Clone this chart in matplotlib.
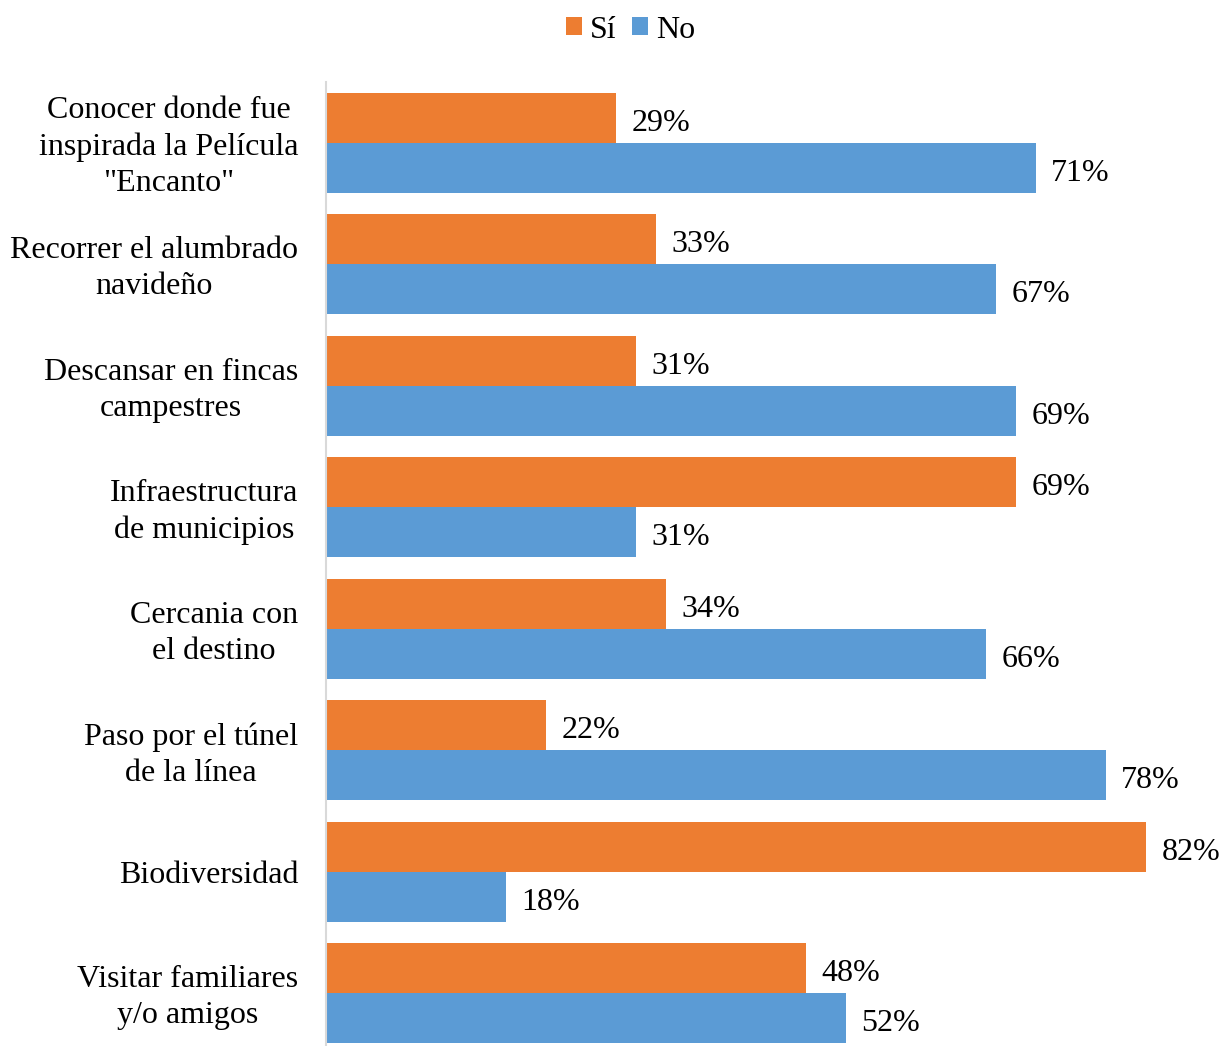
import matplotlib
matplotlib.use("Agg")
import matplotlib.pyplot as plt
from matplotlib.transforms import ScaledTranslation
import numpy as np

categories = [
    'Conocer donde fue\ninspirada la Película\n"Encanto"',
    'Recorrer el alumbrado\nnavideño',
    'Descansar en fincas\ncampestres',
    'Infraestructura\nde municipios',
    'Cercania con\nel destino',
    'Paso por el túnel\nde la línea',
    'Biodiversidad',
    'Visitar familiares\ny/o amigos',
]
si_values = [29, 33, 31, 69, 34, 22, 82, 48]
no_values = [71, 67, 69, 31, 66, 78, 18, 52]
series_names = ['Sí', 'No']

plt.rcParams['font.family'] = ['Liberation Serif', 'DejaVu Serif']
FS = 23

fig = plt.figure(figsize=(12.22, 10.46), dpi=100)
W, H = 1222, 1046
left_px, top_px, bottom_px = 326, 82, 1054
ax = fig.add_axes([left_px / W, (H - bottom_px) / H, 896 / W, (bottom_px - top_px) / H])

y = np.arange(len(categories))
h = 0.41
c_si = '#ED7D31'
c_no = '#5B9BD5'
b1 = ax.barh(y - h / 2, si_values, height=h, color=c_si, label=series_names[0])
b2 = ax.barh(y + h / 2, no_values, height=h, color=c_no, label=series_names[1])

for bars, vals in ((b1, si_values), (b2, no_values)):
    for rect, v in zip(bars, vals):
        ax.annotate(f'{v}%', (rect.get_width(), rect.get_y() + rect.get_height() / 2),
                    xytext=(11, -4), textcoords='offset points', va='center', ha='left',
                    fontsize=FS)

ax.set_xlim(0, 89.6)
ax.set_ylim(len(categories) - 0.5, -0.5)
ax.set_yticks(y)
ax.set_yticklabels(categories, fontsize=FS, multialignment='center', linespacing=1.32)
ax.tick_params(axis='y', length=0, pad=20)
for lbl in ax.get_yticklabels():
    if '\n' in lbl.get_text():
        lbl.set_transform(lbl.get_transform() + ScaledTranslation(0, 2.5 / 100, fig.dpi_scale_trans))
ax.set_xticks([])
for s in ('top', 'right', 'bottom'):
    ax.spines[s].set_visible(False)
ax.spines['left'].set_color('#D9D9D9')
ax.spines['left'].set_linewidth(1.5)

fig.legend(handles=[b1, b2], labels=series_names, loc='center', bbox_to_anchor=(0.516, 1 - 30 / H),
           ncol=2, frameon=False, fontsize=FS, handlelength=0.5, handleheight=0.5,
           handletextpad=0.25, columnspacing=0.5)

fig.savefig('out.png', dpi=100)
